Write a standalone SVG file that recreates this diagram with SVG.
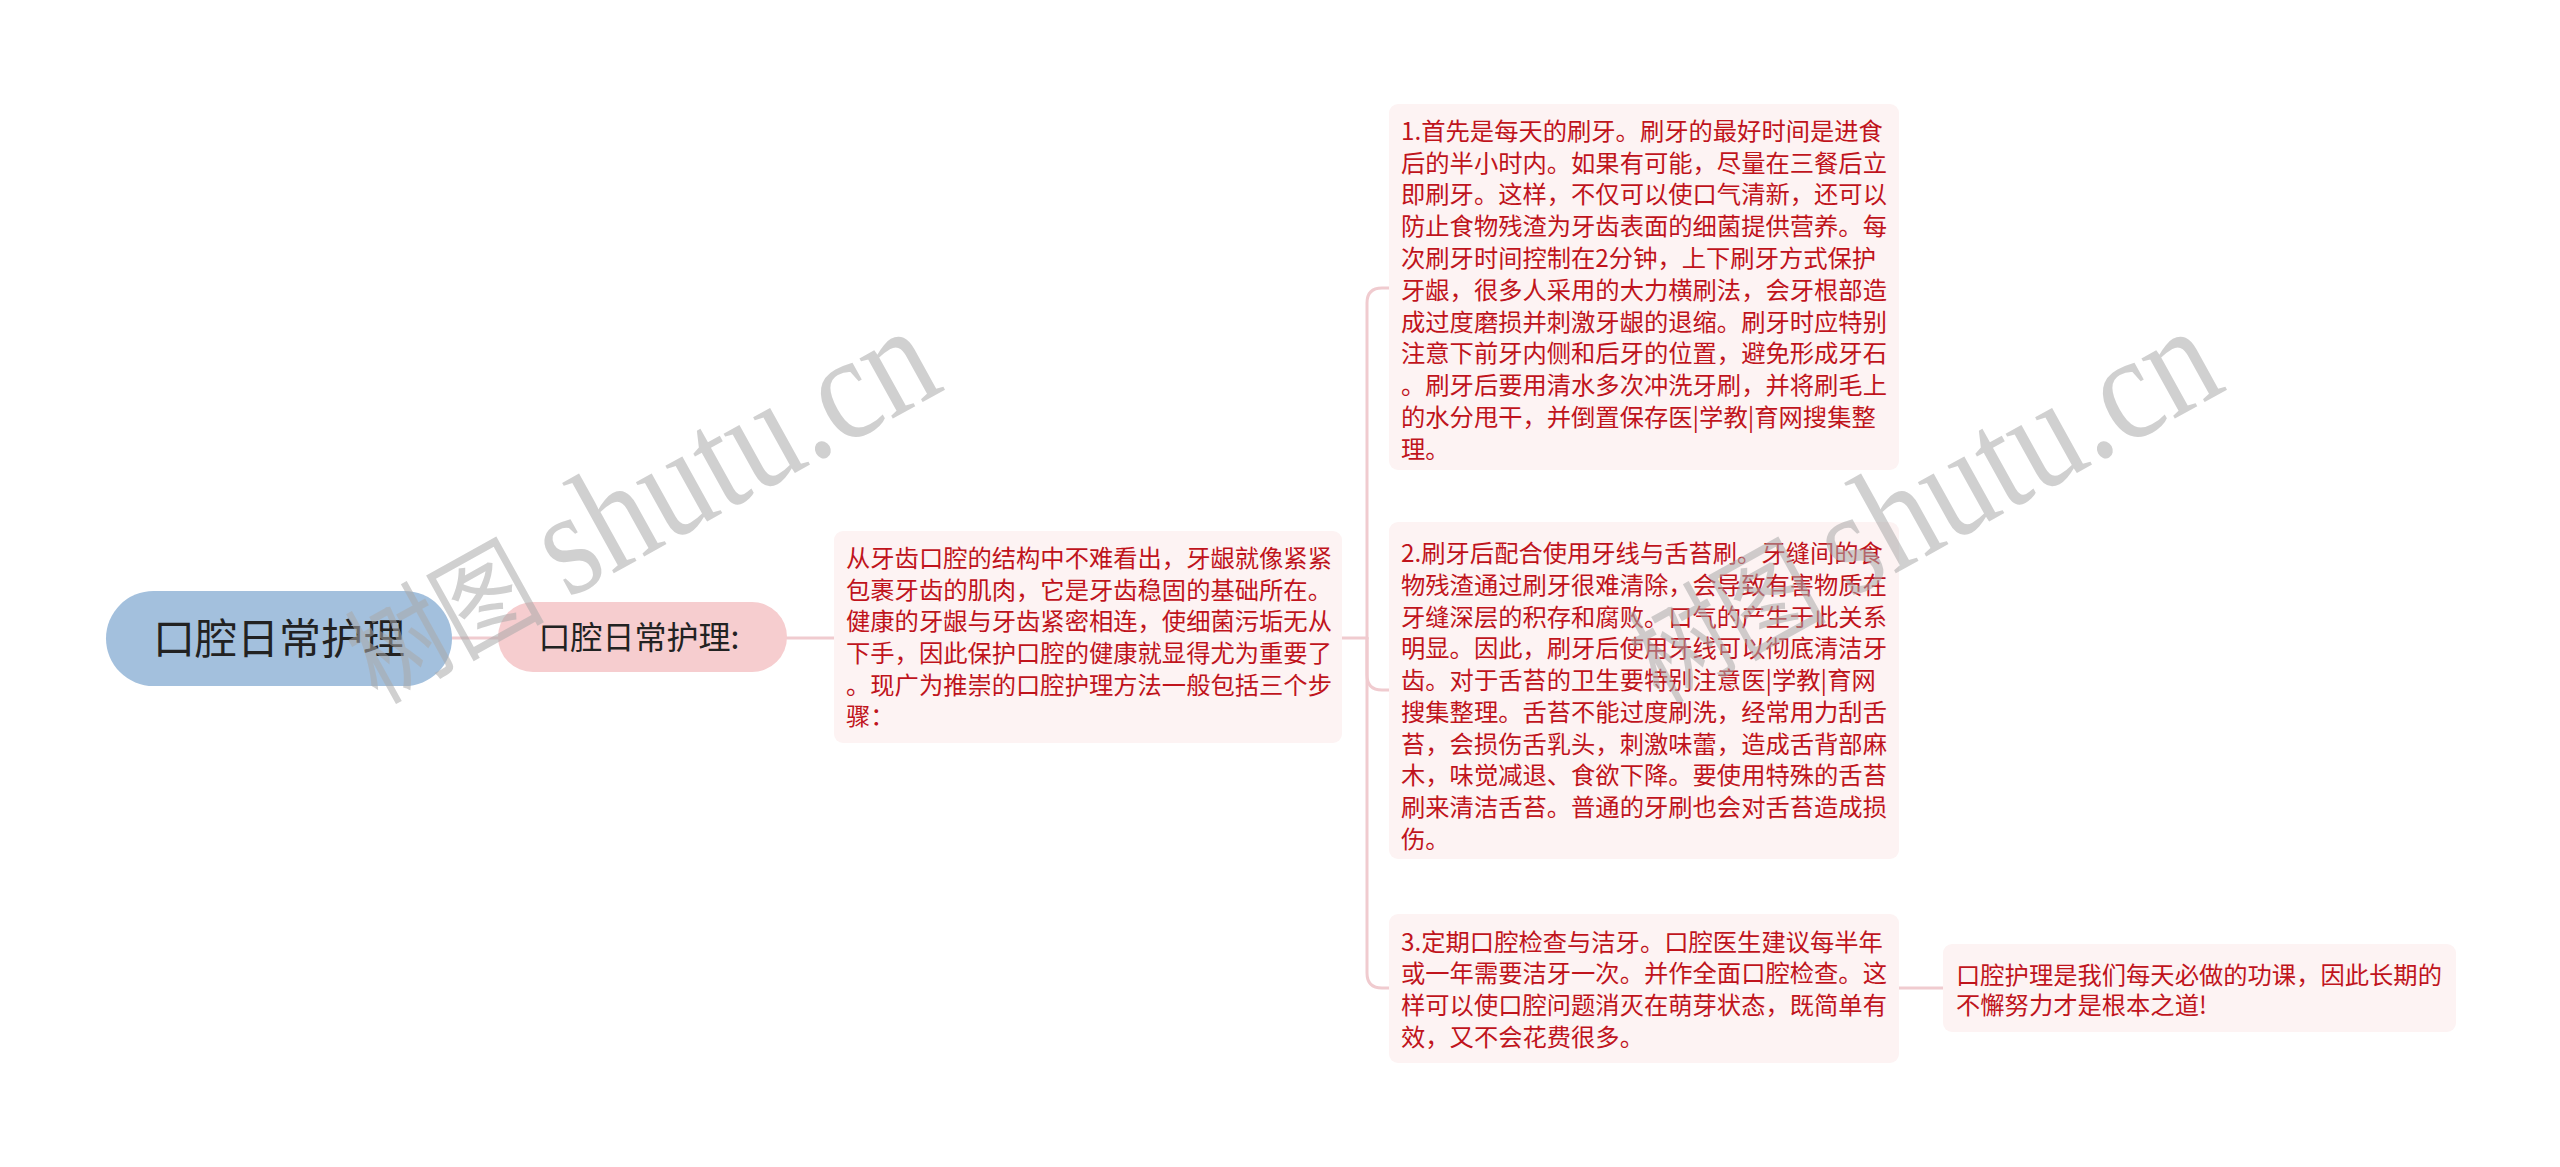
<svg xmlns="http://www.w3.org/2000/svg" width="2560" height="1167" viewBox="0 0 2560 1167">
<style>
.conn{fill:none;stroke:#f0cbcf;stroke-width:3;stroke-linecap:round}
.box{fill:#fdf3f3}
.t{font-family:"Noto Sans CJK SC","Liberation Sans",sans-serif;font-size:24.3px;fill:#c0141c}
.root{fill:#a3c0dd}
.sub{fill:#f6cdcf}
.rt{font-family:"Noto Sans CJK SC","Liberation Sans",sans-serif;font-size:42px;fill:#222}
.st{font-family:"Noto Sans CJK SC","Liberation Sans",sans-serif;font-size:32px;fill:#222}
.wm{font-family:"Liberation Serif","Noto Sans CJK SC",serif;font-size:150px;fill:#aaaaaa;opacity:0.55}
.wmc{font-family:"Noto Sans CJK SC",sans-serif;font-size:112px}
</style>
<rect width="2560" height="1167" fill="#ffffff"/>
<g id="connectors">
<path class="conn" d="M452,638 H498"/>
<path class="conn" d="M787,638 H834"/>
<path class="conn" d="M1342,638 H1367"/>
<path class="conn" d="M1367,638 V303 Q1367,288 1382,288 H1389"/>
<path class="conn" d="M1367,638 V675 Q1367,690 1382,690 H1389"/>
<path class="conn" d="M1367,638 V973 Q1367,988 1382,988 H1389"/>
<path class="conn" d="M1899,988 H1943"/>
</g>
<g id="root">
<rect class="root" x="106" y="591" width="346" height="95" rx="47.5"/>
<text class="rt" x="279" y="654" text-anchor="middle">口腔日常护理</text>
</g>
<g id="sub">
<rect class="sub" x="498" y="602" width="289" height="70" rx="35"/>
<text class="st" x="639" y="649" text-anchor="middle">口腔日常护理:</text>
</g>
<g id="intro">
<rect class="box" x="834" y="531" width="508" height="212" rx="9"/>
<text class="t">
<tspan x="846" y="567">从牙齿口腔的结构中不难看出，牙龈就像紧紧</tspan>
<tspan x="846" y="599">包裹牙齿的肌肉，它是牙齿稳固的基础所在。</tspan>
<tspan x="846" y="630">健康的牙龈与牙齿紧密相连，使细菌污垢无从</tspan>
<tspan x="846" y="662">下手，因此保护口腔的健康就显得尤为重要了</tspan>
<tspan x="846" y="694">。现广为推崇的口腔护理方法一般包括三个步</tspan>
<tspan x="846" y="725">骤：</tspan>
</text>
</g>
<g id="step1">
<rect class="box" x="1389" y="104" width="510" height="366" rx="9"/>
<text class="t">
<tspan x="1401" y="140">1.首先是每天的刷牙。刷牙的最好时间是进食</tspan>
<tspan x="1401" y="172">后的半小时内。如果有可能，尽量在三餐后立</tspan>
<tspan x="1401" y="203">即刷牙。这样，不仅可以使口气清新，还可以</tspan>
<tspan x="1401" y="235">防止食物残渣为牙齿表面的细菌提供营养。每</tspan>
<tspan x="1401" y="267">次刷牙时间控制在2分钟，上下刷牙方式保护</tspan>
<tspan x="1401" y="299">牙龈，很多人采用的大力横刷法，会牙根部造</tspan>
<tspan x="1401" y="331">成过度磨损并刺激牙龈的退缩。刷牙时应特别</tspan>
<tspan x="1401" y="362">注意下前牙内侧和后牙的位置，避免形成牙石</tspan>
<tspan x="1401" y="394">。刷牙后要用清水多次冲洗牙刷，并将刷毛上</tspan>
<tspan x="1401" y="426">的水分甩干，并倒置保存医|学教|育网搜集整</tspan>
<tspan x="1401" y="458">理。</tspan>
</text>
</g>
<g id="step2">
<rect class="box" x="1389" y="522" width="510" height="337" rx="9"/>
<text class="t">
<tspan x="1401" y="562">2.刷牙后配合使用牙线与舌苔刷。牙缝间的食</tspan>
<tspan x="1401" y="594">物残渣通过刷牙很难清除，会导致有害物质在</tspan>
<tspan x="1401" y="626">牙缝深层的积存和腐败。口气的产生于此关系</tspan>
<tspan x="1401" y="657">明显。因此，刷牙后使用牙线可以彻底清洁牙</tspan>
<tspan x="1401" y="689">齿。对于舌苔的卫生要特别注意医|学教|育网</tspan>
<tspan x="1401" y="721">搜集整理。舌苔不能过度刷洗，经常用力刮舌</tspan>
<tspan x="1401" y="753">苔，会损伤舌乳头，刺激味蕾，造成舌背部麻</tspan>
<tspan x="1401" y="784">木，味觉减退、食欲下降。要使用特殊的舌苔</tspan>
<tspan x="1401" y="816">刷来清洁舌苔。普通的牙刷也会对舌苔造成损</tspan>
<tspan x="1401" y="848">伤。</tspan>
</text>
</g>
<g id="step3">
<rect class="box" x="1389" y="914" width="510" height="149" rx="9"/>
<text class="t">
<tspan x="1401" y="951">3.定期口腔检查与洁牙。口腔医生建议每半年</tspan>
<tspan x="1401" y="982">或一年需要洁牙一次。并作全面口腔检查。这</tspan>
<tspan x="1401" y="1014">样可以使口腔问题消灭在萌芽状态，既简单有</tspan>
<tspan x="1401" y="1046">效，又不会花费很多。</tspan>
</text>
</g>
<g id="summary">
<rect class="box" x="1943" y="944" width="513" height="88" rx="9"/>
<text class="t">
<tspan x="1956" y="984">口腔护理是我们每天必做的功课，因此长期的</tspan>
<tspan x="1956" y="1014">不懈努力才是根本之道!</tspan>
</text>
</g>
<g id="watermarks">
<text class="wm" transform="translate(378,704) rotate(-29) scale(0.86,1)"><tspan class="wmc">树图</tspan><tspan dx="28">shutu.cn</tspan></text>
<text class="wm" transform="translate(1660,704) rotate(-29) scale(0.86,1)"><tspan class="wmc">树图</tspan><tspan dx="28">shutu.cn</tspan></text>
</g>
</svg>
